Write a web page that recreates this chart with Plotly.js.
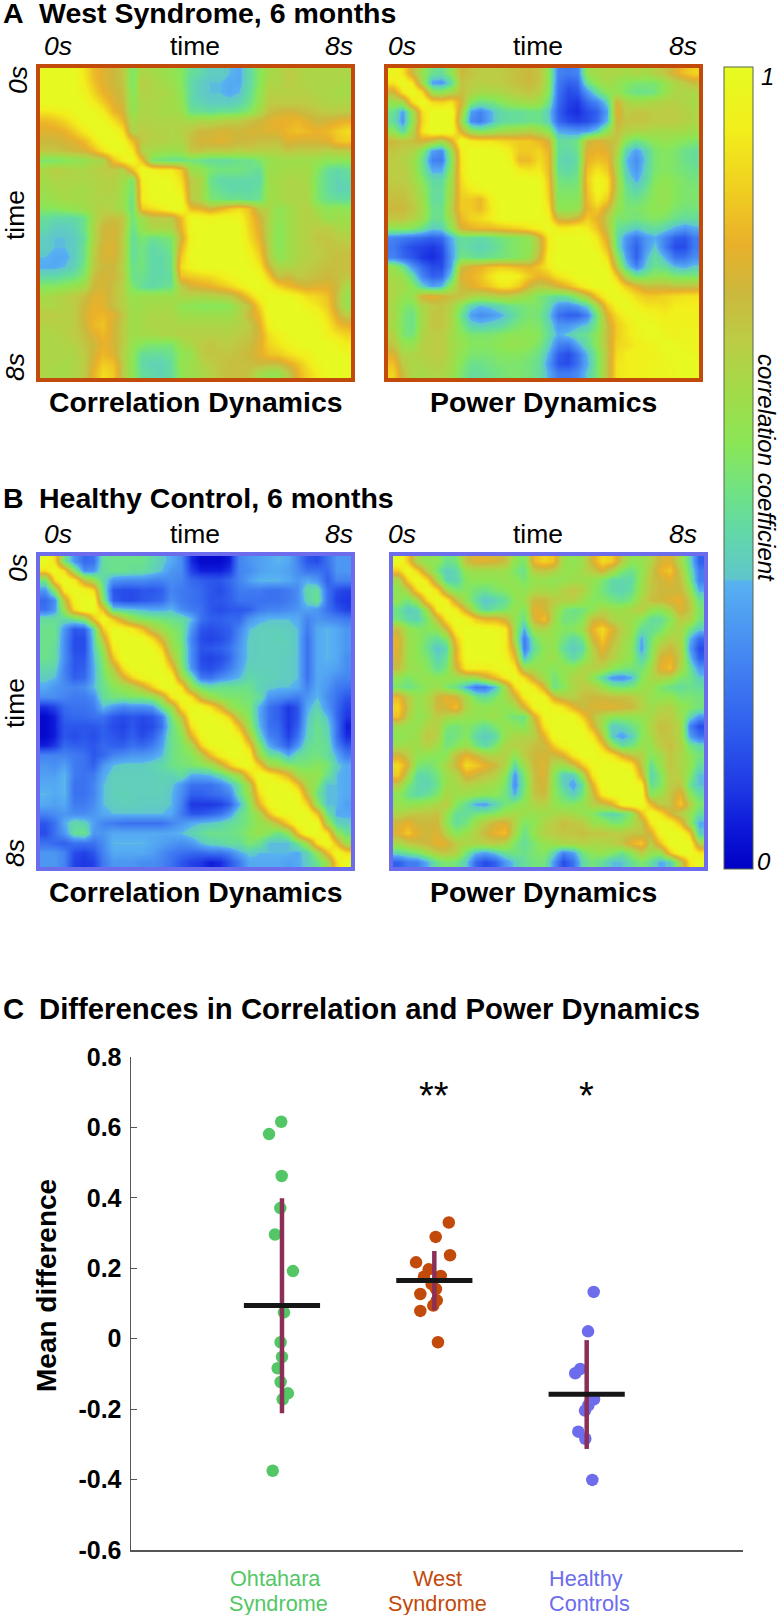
<!DOCTYPE html>
<html><head><meta charset="utf-8">
<script src="https://cdn.plot.ly/plotly-3.0.1.min.js"></script>
<style>html,body{margin:0;padding:0;background:#fff}#c{width:780px;height:1615px}</style>
</head><body><div id="c"></div>
<script>
// Lower triangles of the four symmetric correlation matrices (percent)
const corrWest=[
[100],
[100,100],
[100,100,100],
[100,100,100,100],
[90,92,94,98,100],
[80,82,86,92,98,100],
[76,76,78,84,92,98,100],
[72,72,74,76,80,90,98,100],
[68,68,70,72,74,80,90,98,100],
[50,50,52,54,56,60,62,82,92,100],
[62,66,64,62,62,64,66,66,62,80,100],
[60,62,62,62,62,62,64,64,60,50,95,100],
[58,60,62,60,60,62,64,64,58,48,92,100,100],
[56,58,60,60,60,62,62,62,58,46,92,98,100,100],
[52,52,54,56,58,62,64,62,58,46,84,88,92,98,100],
[44,42,42,42,46,60,68,70,68,48,58,66,66,66,80,100],
[42,38,38,40,46,62,72,74,68,46,56,62,62,62,78,98,100],
[38,36,36,38,44,62,72,74,66,44,50,46,48,50,72,96,100,100],
[38,36,36,38,46,64,74,76,66,44,48,42,44,48,78,98,100,100,100],
[36,34,34,38,46,66,74,74,66,44,48,42,42,46,84,98,100,100,100,100],
[34,34,36,40,48,66,72,72,64,46,48,42,42,46,88,96,100,100,100,100,100],
[42,42,44,46,52,70,74,72,66,46,46,42,42,44,82,84,86,88,92,96,98,100],
[52,52,54,56,60,72,74,70,64,50,44,42,44,46,66,74,76,78,82,86,92,98,100],
[60,62,64,66,70,76,76,70,64,56,58,58,58,58,62,62,62,62,64,66,72,84,95,100],
[62,62,64,66,72,78,76,70,64,58,58,60,60,60,54,54,52,52,52,54,62,68,86,100,100],
[66,66,64,66,74,78,80,76,68,58,60,62,62,62,58,58,58,58,58,58,62,72,80,98,100,100],
[64,64,64,66,72,80,82,74,66,58,60,62,62,62,62,62,62,62,62,62,64,66,76,94,100,100,100],
[62,62,64,66,70,76,80,74,66,58,60,60,62,62,64,64,64,64,64,64,66,68,74,88,94,98,100,100],
[62,62,62,64,68,72,78,74,66,56,52,50,50,50,58,62,66,68,66,66,68,70,76,86,90,96,98,100,100],
[62,62,62,62,66,74,80,76,64,54,44,44,44,46,54,56,66,68,68,68,70,72,76,82,84,88,92,94,100,100],
[62,62,60,62,66,76,84,82,66,54,42,40,40,44,56,58,62,66,68,70,70,70,72,70,70,76,82,90,96,100,100],
[62,60,60,62,66,78,88,84,66,54,44,42,40,44,54,58,60,64,68,70,70,68,60,56,56,66,78,86,92,98,100,100]
];
const powerWest=[
[96],
[90,100],
[72,90,100],
[56,60,88,100],
[46,32,56,88,100],
[44,30,54,86,100,100],
[54,42,60,90,100,100,100],
[72,68,70,74,66,60,74,100],
[68,66,64,52,32,28,56,92,100],
[66,64,60,46,26,24,52,90,100,100],
[66,66,60,48,34,34,54,90,100,100,100],
[66,66,62,52,42,42,58,88,98,100,100,100],
[68,68,64,56,44,44,60,86,92,96,100,100,100],
[70,70,66,58,44,44,62,84,84,80,92,100,100,100],
[72,72,68,60,46,46,64,84,84,80,90,100,100,100,100],
[68,68,64,58,46,46,60,80,86,88,92,98,100,100,100,100],
[54,54,52,46,38,40,54,74,78,80,80,82,84,86,90,94,100],
[26,24,22,20,18,20,34,44,44,42,44,48,50,52,54,70,92,100],
[24,18,14,12,10,14,32,44,42,40,42,46,50,52,54,68,92,100,100],
[26,20,16,10,8,12,30,48,46,44,46,48,50,52,56,72,95,100,100,100],
[56,46,30,20,14,14,32,70,76,78,82,84,82,80,78,84,92,100,100,100,100],
[60,56,44,26,18,20,40,76,78,82,90,96,96,92,84,78,82,90,94,100,100,100],
[62,60,54,40,32,36,56,72,76,80,84,90,90,84,72,66,68,74,80,88,96,100,100],
[62,56,56,74,78,74,70,68,64,60,62,64,64,60,56,50,46,44,46,56,66,84,96,100],
[60,52,50,62,66,68,64,52,40,36,38,42,46,48,50,50,42,30,28,32,40,60,84,96,100],
[62,50,46,60,68,68,62,46,32,28,30,34,40,46,50,48,38,22,18,18,26,48,76,88,94,100],
[60,50,46,60,68,68,62,50,40,38,40,42,46,50,52,50,42,30,30,34,38,50,70,84,90,96,100],
[64,50,48,62,66,66,60,54,50,50,50,52,54,54,54,52,44,34,38,44,46,54,70,84,90,94,98,100],
[68,56,56,64,66,66,60,56,52,52,52,54,56,56,54,50,40,26,24,34,44,54,70,86,88,92,94,96,100],
[76,62,62,64,66,66,60,54,50,50,50,52,52,52,50,46,34,18,14,22,36,50,68,88,92,94,94,94,98,100],
[82,66,62,62,64,64,60,52,46,46,48,50,50,50,48,44,30,16,14,22,34,50,68,90,92,94,94,96,96,98,100],
[86,70,62,60,62,62,58,50,44,44,46,48,50,50,48,44,34,24,24,28,38,50,68,90,92,94,94,96,96,98,100,100]
];
const corrHealthy=[
[100],
[88,100],
[48,88,100],
[30,54,92,100],
[20,28,68,96,100],
[22,30,58,88,100,100],
[44,44,42,46,52,80,100],
[46,46,30,16,18,42,84,100],
[46,46,28,14,14,40,70,98,100],
[46,44,28,14,14,38,58,92,100,100],
[46,44,28,16,16,36,52,82,100,100,100],
[42,40,26,16,18,34,50,66,88,100,100,100],
[38,36,26,18,20,34,48,58,72,86,96,100,100],
[34,30,28,26,28,36,46,52,56,60,70,84,98,100],
[28,28,26,24,24,28,44,48,48,50,50,54,64,90,100],
[8,12,20,22,22,24,36,30,26,28,28,30,46,58,90,100],
[2,6,18,20,20,22,22,16,14,16,14,16,24,48,68,98,100],
[2,6,16,16,16,16,18,14,12,16,12,14,22,44,58,90,100,100],
[2,6,16,14,16,14,18,16,14,18,14,18,28,46,52,76,96,100,100],
[6,10,20,18,18,16,20,18,18,22,20,24,32,46,50,58,84,98,100,100],
[26,26,26,24,22,16,20,26,28,30,30,32,36,46,50,52,62,80,94,100,100],
[30,28,32,24,22,18,30,36,38,38,38,40,42,46,48,50,52,56,68,84,96,100],
[32,32,36,24,22,24,34,39,39,39,39,39,40,40,44,34,34,36,42,52,60,84,100],
[34,34,36,22,22,26,36,39,39,39,39,39,40,38,30,22,22,22,26,34,46,62,96,100],
[36,34,36,22,22,26,36,39,40,39,39,39,39,36,28,18,18,20,22,26,44,58,88,100,100],
[34,32,34,24,24,28,36,38,39,39,38,38,38,36,26,10,10,10,12,18,34,52,78,96,100,100],
[26,28,30,28,28,30,34,36,36,36,36,36,36,34,24,16,16,18,22,30,44,50,60,82,96,100,100],
[16,22,34,42,40,32,26,24,22,22,22,22,22,26,30,34,36,38,40,44,46,50,56,60,70,86,100,100],
[14,22,30,44,46,30,30,34,34,34,34,34,34,34,36,40,44,46,46,46,48,52,56,52,46,54,82,100,100],
[22,20,18,22,22,22,28,36,36,36,36,34,32,30,28,30,36,40,42,44,44,50,46,36,36,36,46,60,90,100],
[30,30,26,14,12,16,26,34,34,34,34,32,28,24,22,20,20,22,22,26,34,38,36,36,36,36,34,40,56,80,100],
[30,30,26,12,10,12,24,30,30,30,28,28,26,22,16,12,10,6,8,16,24,34,34,34,34,32,34,38,46,58,88,100]
];
const powerHealthy=[
[100],
[84,100],
[60,86,100],
[54,64,88,100],
[54,48,60,88,100],
[46,38,40,60,92,100],
[48,42,40,50,70,92,100],
[70,56,52,52,54,72,96,100],
[76,58,54,48,44,52,84,100,100],
[76,58,54,46,36,42,78,100,100,100],
[74,58,54,50,40,46,78,98,100,100,100],
[70,58,56,52,44,50,72,92,94,92,96,100],
[54,50,54,56,54,56,56,58,58,70,80,92,100],
[50,46,50,54,58,50,46,34,24,24,36,60,88,100],
[80,66,56,60,72,78,74,60,48,44,50,58,70,92,100],
[86,68,56,60,72,74,82,62,56,54,56,54,58,74,96,100],
[82,64,54,58,66,62,60,56,56,56,58,52,48,46,74,96,100],
[58,56,56,64,64,50,48,52,48,44,50,56,54,52,66,90,100,100],
[54,56,58,68,64,46,48,52,42,38,42,56,62,62,64,78,98,100,100],
[58,60,58,64,58,48,52,58,48,42,50,62,64,66,70,70,84,96,100,100],
[74,66,56,54,52,54,70,78,72,64,62,64,54,66,72,74,70,76,92,100,100],
[88,74,50,48,52,62,72,88,84,78,72,62,42,58,72,76,60,58,68,84,96,100],
[84,62,42,42,48,58,62,76,72,68,64,54,30,50,70,76,54,38,38,58,90,100,100],
[66,50,42,40,46,58,60,64,62,60,58,50,28,48,70,74,54,40,32,44,76,100,100,100],
[54,46,42,44,50,62,58,58,56,54,54,48,34,50,68,72,54,46,38,48,68,92,100,100,100],
[56,54,56,58,62,66,52,44,34,32,40,48,52,56,62,64,56,52,52,56,64,68,76,96,100,100],
[62,66,68,68,70,56,44,44,48,50,52,58,60,58,56,58,60,62,60,56,52,44,40,44,52,80,100],
[74,78,72,72,72,54,44,48,58,66,74,76,64,50,54,62,66,70,68,66,58,56,50,50,58,66,90,100],
[76,84,76,72,76,62,52,58,64,72,78,82,60,46,56,64,66,68,68,70,68,68,66,66,68,68,74,96,100],
[60,66,70,72,78,76,66,62,62,64,66,62,50,44,50,56,58,62,62,64,62,62,64,68,78,84,64,82,100,100],
[42,46,50,58,66,68,64,48,36,32,38,46,48,46,50,52,42,26,32,48,54,56,52,46,54,66,56,56,84,100,100],
[18,24,25,34,46,50,48,38,20,14,18,30,38,44,48,48,30,14,22,42,48,44,36,36,44,50,44,34,38,62,90,100]
];

// Panel C
const groupNames=[['Ohtahara','Syndrome'],['West','Syndrome'],['Healthy','Controls']];
const ohtaharaX=[0.995,0.915,0.998,0.989,0.954,1.072,1.013,0.991,1.0,0.972,0.991,1.039,1.005,0.939];
const ohtaharaY=[0.616,0.581,0.462,0.371,0.296,0.192,0.075,-0.01,-0.052,-0.084,-0.123,-0.155,-0.172,-0.375];
const westX=[2.095,2.009,2.103,1.880,1.963,1.932,2.042,1.983,2.011,1.908,2.016,1.993,1.908,2.024];
const westY=[0.330,0.289,0.237,0.217,0.197,0.176,0.178,0.155,0.141,0.127,0.109,0.094,0.079,-0.010];
const healthyX=[3.046,3.009,2.958,2.925,3.048,3.011,2.989,2.945,2.991,3.037];
const healthyY=[0.133,0.021,-0.086,-0.098,-0.172,-0.189,-0.204,-0.264,-0.284,-0.401];
const groupMean=[0.094,0.165,-0.158];
const groupLow=[-0.212,0.081,-0.313];
const groupHigh=[0.399,0.249,-0.004];
const yTicks=[0.8,0.6,0.4,0.2,0,-0.2,-0.4,-0.6];
const yTickText=['0.8','0.6','0.4','0.2','0','-0.2','-0.4','-0.6'];
const stars=[['**',2],['*',3]];

const ORANGE='#c24a0a',BLUE='#6c6cec',GREEN='#53c765',MAROON='#8b2f57',BLACK='#161616';
const W=780,H=1615,FONT='"Liberation Sans", Arial, sans-serif';
const fx=p=>p/W, fy=p=>1-p/H;

function mirror(tri,name){
  const n=tri.length;
  tri.forEach((r,i)=>{ if(r.length!==i+1) console.error(name+' row '+i+' has '+r.length); });
  const z=[];
  for(let i=0;i<n;i++){ z.push([]); for(let j=0;j<n;j++){ z[i].push((i>=j?tri[i][j]:tri[j][i])/100); } }
  return z;
}
const colorscale=[
[0,'#0000c4'],[0.05,'#0c18d8'],[0.1,'#1e38e4'],[0.18,'#3060ee'],[0.26,'#4484f2'],[0.35,'#56aef2'],
[0.358,'#58b2ee'],[0.362,'#60c6cc'],[0.42,'#62d8a8'],[0.47,'#70e284'],[0.53,'#8ae656'],[0.6,'#a4da48'],
[0.66,'#bccc44'],[0.72,'#ccb83c'],[0.78,'#eab02a'],[0.85,'#f0d020'],[0.92,'#f2ee1c'],[1,'#e6fa22']];

const panels=[
 {z:corrWest,name:'corrWest',x:[40,351],y:[68,378],c:ORANGE},
 {z:powerWest,name:'powerWest',x:[388,699],y:[68,378],c:ORANGE},
 {z:corrHealthy,name:'corrHealthy',x:[40,351],y:[556,867],c:BLUE},
 {z:powerHealthy,name:'powerHealthy',x:[393,704],y:[556,867],c:BLUE}
];
const traces=[],layout={
  width:W,height:H,margin:{l:0,r:0,t:0,b:0,autoexpand:false},paper_bgcolor:'#fff',plot_bgcolor:'#fff',showlegend:false,
  font:{family:FONT,color:'#000'},annotations:[],shapes:[],
  coloraxis:{cmin:0,cmax:1,colorscale:colorscale,colorbar:{
    x:724/W,xanchor:'left',xpad:0,ypad:0,thickness:29,thicknessmode:'pixels',len:802/H,lenmode:'fraction',
    y:fy(869),yanchor:'bottom',outlinecolor:'#56664c',outlinewidth:1,tickvals:[],ticks:''}}
};
panels.forEach((p,i)=>{
  const s=i?String(i+1):'';
  traces.push({type:'heatmap',z:mirror(p.z,p.name),coloraxis:'coloraxis',zsmooth:'best',xaxis:'x'+s,yaxis:'y'+s,hoverinfo:'skip'});
  const n=p.z.length;
  layout['xaxis'+s]={domain:[fx(p.x[0]),fx(p.x[1])],range:[-0.5,n-0.5],anchor:'y'+s,showticklabels:false,ticks:'',showgrid:false,zeroline:false,showline:true,mirror:true,linecolor:p.c,linewidth:4};
  layout['yaxis'+s]={domain:[fy(p.y[1]),fy(p.y[0])],range:[n-0.5,-0.5],anchor:'x'+s,showticklabels:false,ticks:'',showgrid:false,zeroline:false,showline:true,mirror:true,linecolor:p.c,linewidth:4};
});
// Panel C axes
layout.xaxis5={domain:[fx(131),fx(743)],range:[0.009,4.026],anchor:'y5',showticklabels:false,ticks:'',showgrid:false,zeroline:false,showline:true,linecolor:'#555',linewidth:1.5};
layout.yaxis5={domain:[fy(1550),fy(1057)],range:[-0.6,0.8],anchor:'x5',tickvals:yTicks,ticktext:yTickText,ticks:'inside',ticklen:6,tickwidth:1.2,tickcolor:'#555',ticklabelstandoff:3,showgrid:false,zeroline:false,showline:true,linecolor:'#555',linewidth:1.5,tickfont:{family:FONT,size:25,color:'#000',weight:700}};
const dots=(x,y,c)=>traces.push({type:'scatter',mode:'markers',x:x,y:y,xaxis:'x5',yaxis:'y5',marker:{size:12.5,color:c,line:{width:0}},hoverinfo:'skip'});
dots(ohtaharaX,ohtaharaY,GREEN);dots(westX,westY,ORANGE);dots(healthyX,healthyY,BLUE);
groupMean.forEach((m,i)=>{
  traces.push({type:'scatter',mode:'lines',x:[i+1,i+1],y:[groupLow[i],groupHigh[i]],xaxis:'x5',yaxis:'y5',line:{color:MAROON,width:4.5},hoverinfo:'skip'});
  traces.push({type:'scatter',mode:'lines',x:[i+0.75,i+1.25],y:[m,m],xaxis:'x5',yaxis:'y5',line:{color:BLACK,width:5},hoverinfo:'skip'});
});
// separator line on colour bar
layout.shapes.push({type:'line',xref:'paper',yref:'paper',x0:fx(724),x1:fx(753),y0:fy(582),y1:fy(582),line:{color:'#2c4a4a',width:1},layer:'above'});

function T(text,x,y,o){o=o||{};layout.annotations.push({text:text,xref:'paper',yref:'paper',x:fx(x),y:fy(y),xanchor:o.anchor||'center',yanchor:'middle',showarrow:false,textangle:o.angle||0,
  font:{family:FONT,size:o.size||23,color:o.color||'#000',weight:o.bold?700:400,style:o.italic?'italic':'normal'}});}
const head=28.5,sub=28.4,lab=26.5;
T('A',1,13,{anchor:'left',bold:1,size:head});T('West Syndrome, 6 months',37,13,{anchor:'left',bold:1,size:head});
T('B',1,498,{anchor:'left',bold:1,size:head});T('Healthy Control, 6 months',37,498,{anchor:'left',bold:1,size:head});
T('C',1,1008,{anchor:'left',bold:1,size:29.3});T('Differences in Correlation and Power Dynamics',37,1008,{anchor:'left',bold:1,size:29.3});
[[46,[58,195,339],[402,538,683],[80,215,367]],[534,[58,195,339],[402,538,683],[568,703,853]]].forEach(r=>{
  [r[1],r[2]].forEach(xs=>{
    T('0s',xs[0],r[0],{italic:1,size:lab});T('time',xs[1],r[0],{size:lab});T('8s',xs[2],r[0],{italic:1,size:lab});
  });
  T('0s',18,r[3][0],{italic:1,size:lab,angle:-90});T('time',15,r[3][1],{size:lab,angle:-90});T('8s',15,r[3][2],{italic:1,size:lab,angle:-90});
});
[402,892].forEach(y=>{T('Correlation Dynamics',195,y,{bold:1,size:sub});T('Power Dynamics',543,y,{bold:1,size:sub});});
T('1',767,76,{italic:1,size:24});T('0',764,861,{italic:1,size:24});
T('correlation coefficient',767,468,{italic:1,size:24,angle:90});
T('Mean difference',46,1286,{bold:1,size:28,angle:-90});
const gx=[275,437,586],gx2=[278,437,589],gc=[GREEN,ORANGE,BLUE];
groupNames.forEach((g,i)=>{T(g[0],gx[i],1578,{color:gc[i],size:21.7});T(g[1],gx2[i],1603,{color:gc[i],size:21.7});});
stars.forEach(s=>layout.annotations.push({text:s[0],xref:'x5',yref:'y5',x:s[1],y:0.69,yanchor:'middle',showarrow:false,font:{family:FONT,size:38,color:'#000'}}));

Plotly.newPlot('c',traces,layout,{staticPlot:true,displayModeBar:false});
</script></body></html>
